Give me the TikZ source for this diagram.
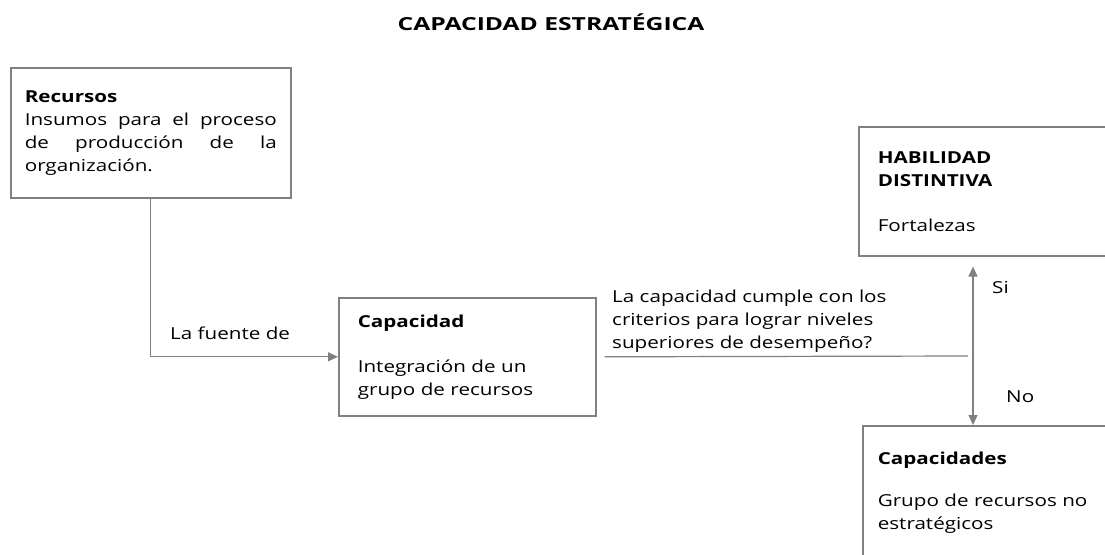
\documentclass[tikz,border=0pt]{standalone}
\usepackage{fontspec}
\setmainfont{Open Sans}[FakeStretch=1.25]
\newfontfamily\titlefont{Open Sans}[FakeStretch=1.37]
\usetikzlibrary{arrows.meta,positioning}
\definecolor{linegray}{RGB}{128,128,128}

\begin{document}
\begin{tikzpicture}[x=1pt, y=-1pt,
  every node/.style={font=\fontsize{16.5}{23}\selectfont},
  box/.style={draw=linegray, line width=1.6pt, rectangle, anchor=north west, align=left, inner ysep=0pt},
  conn/.style={draw=linegray, line width=1.2pt},
  arr/.style={conn, -{Triangle[length=10pt,width=9pt]}}]
  \useasboundingbox (0,0) rectangle (1105,554);
  \clip (0,0) rectangle (1105,554);
  % title
  \node[font=\fontsize{18}{22}\titlefont\bfseries] (title) at (551,22) {CAPACIDAD ESTRATÉGICA};
  % boxes
  \node[box, text width=252pt, inner xsep=14pt, minimum height=130pt] (rec) at (10,67)
    {\textbf{Recursos}\\
     \makebox[252pt]{Insumos\hfill para\hfill el\hfill proceso}\\
     \makebox[252pt]{de\hfill producción\hfill de\hfill la}\\
     organización.};
  \node[box, text width=219pt, inner xsep=19pt, minimum height=118pt] (cap) at (338,297)
    {\textbf{Capacidad}\\[22pt] Integración de un\\ grupo de recursos};
  \node[box, text width=230pt, inner xsep=19pt, minimum height=129pt] (hab) at (858,126)
    {\textbf{HABILIDAD}\\ \textbf{DISTINTIVA}\\[22pt] Fortalezas};
  \node[box, text width=230pt, inner xsep=15pt, minimum height=134pt] (capd) at (862,425)
    {\textbf{Capacidades}\\[19pt] Grupo de recursos no\\ estratégicos};
  % labels
  \node[anchor=base west, inner sep=0pt] (fuente) at (170,339) {La fuente de};
  \node[anchor=north west, align=left, inner sep=0pt] (crit) at (612,290)
    {La capacidad cumple con los\\ criterios para lograr niveles\\ superiores de desempeño?};
  \node[anchor=base west, inner sep=0pt] (si) at (992,293) {Si};
  \node[anchor=base west, inner sep=0pt] (no) at (1006,402) {No};
  % connectors
  \coordinate (split) at (973,356);
  \draw[arr] (rec.south) |- (cap.west);
  \draw[conn] ([xshift=8pt]cap.east) -- ([xshift=-5pt]split);
  \draw[arr, shorten >=10pt] (split) -- (split |- hab.south);
  \draw[arr] (split) -- (split |- capd.north);
\end{tikzpicture}
\end{document}
